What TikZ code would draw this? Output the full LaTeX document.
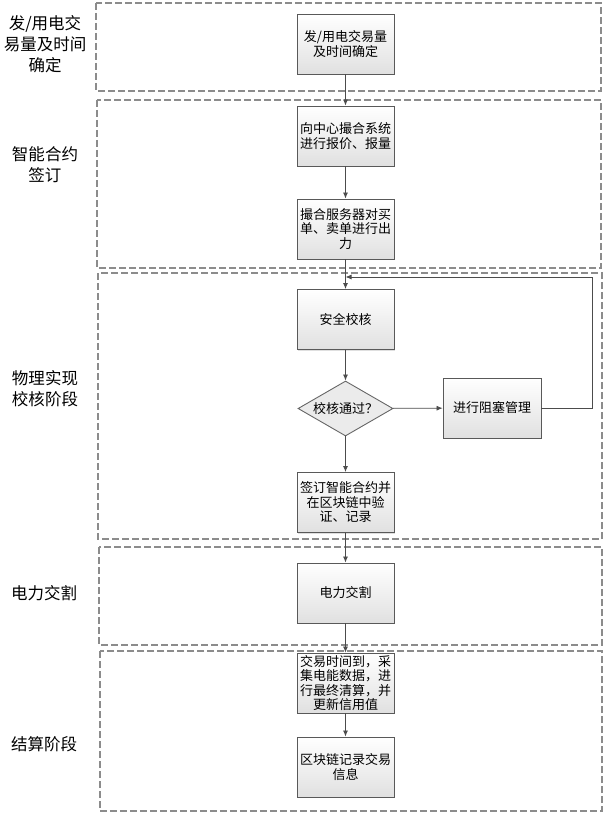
\documentclass[tikz,border=0pt]{standalone}
\usepackage{fontspec}
\setmainfont{Noto Sans CJK SC}
\usetikzlibrary{shapes.geometric,arrows.meta,shadows}
\begin{document}
\begin{tikzpicture}[x=1pt, y=-1pt,
        stepbox/.style={draw=black!65, line width=0.9pt, top color=white, bottom color=black!12,
            minimum width=97pt, minimum height=60pt, align=center, inner sep=1pt,
            font=\fontsize{13}{14.5}\selectfont,
            drop shadow={opacity=0.25, shadow xshift=1pt, shadow yshift=-1pt}},
        decision/.style={diamond, draw=black!60, line width=0.9pt, fill=black!8,
            minimum width=95pt, minimum height=55pt, aspect=1.7, inner sep=1pt,
            font=\fontsize{13}{14.5}\selectfont},
        stage/.style={draw=black!45, line width=1.2pt, dash pattern=on 7pt off 3pt},
        stagelabel/.style={align=center, font=\fontsize{16.5}{21}\selectfont},
        flow/.style={draw=black!70, line width=0.8pt, -{Latex[length=6pt,width=5pt]}}]
    \useasboundingbox (0,0) rectangle (605,813);
    %! --- Stages ---
    % Dashed stage frames
    \draw[stage] (96,3) rectangle (601,91);
    \draw[stage] (97,100) rectangle (601,268);
    \draw[stage] (98,273) rectangle (602,539);
    \draw[stage] (99,547) rectangle (602,645);
    \draw[stage] (100,651) rectangle (602,811);
    % Stage labels (left)
    \node[stagelabel] (lab1) at (45,44) {发/用电交\\易量及时间\\确定};
    \node[stagelabel] (lab2) at (45,165) {智能合约\\签订};
    \node[stagelabel] (lab3) at (45,389) {物理实现\\校核阶段};
    \node[stagelabel] (lab4) at (44,593) {电力交割};
    \node[stagelabel] (lab5) at (44,744) {结算阶段};

    %! --- Steps ---
    \node[stepbox] (quantity) at (345.5,44) {发/用电交易量\\及时间确定};
    \node[stepbox] (quote) at (345.5,136) {向中心撮合系统\\进行报价、报量};
    \node[stepbox] (match) at (345.5,229) {撮合服务器对买\\单、卖单进行出\\力};
    \node[stepbox] (check) at (345.5,319.5) {安全校核};
    \node[decision] (pass) at (345.5,408.5) {校核通过？};
    \node[stepbox, minimum width=98pt] (congest) at (492,408) {进行阻塞管理};
    \node[stepbox] (sign) at (345.5,502.5) {签订智能合约并\\在区块链中验\\证、记录};
    \node[stepbox] (deliver) at (345.5,593) {电力交割};
    \node[stepbox] (settle) at (345.5,683) {交易时间到，采\\集电能数据，进\\行最终清算，并\\更新信用值};
    \node[stepbox] (record) at (345.5,767) {区块链记录交易\\信息};

    %! --- Connectors ---
    % Main column
    \foreach \a/\b in {quantity/quote, quote/match, match/check, check/pass,
        pass/sign, sign/deliver, deliver/settle, settle/record} {
        \draw[flow] (\a) -- (\b);
    }
    % Congestion branch and loop back
    \draw[flow] (pass) -- (congest);
    \coordinate (back) at (592,277);
    \draw[flow] (congest.east) -| (back) -- (back -| check);
\end{tikzpicture}
\end{document}
